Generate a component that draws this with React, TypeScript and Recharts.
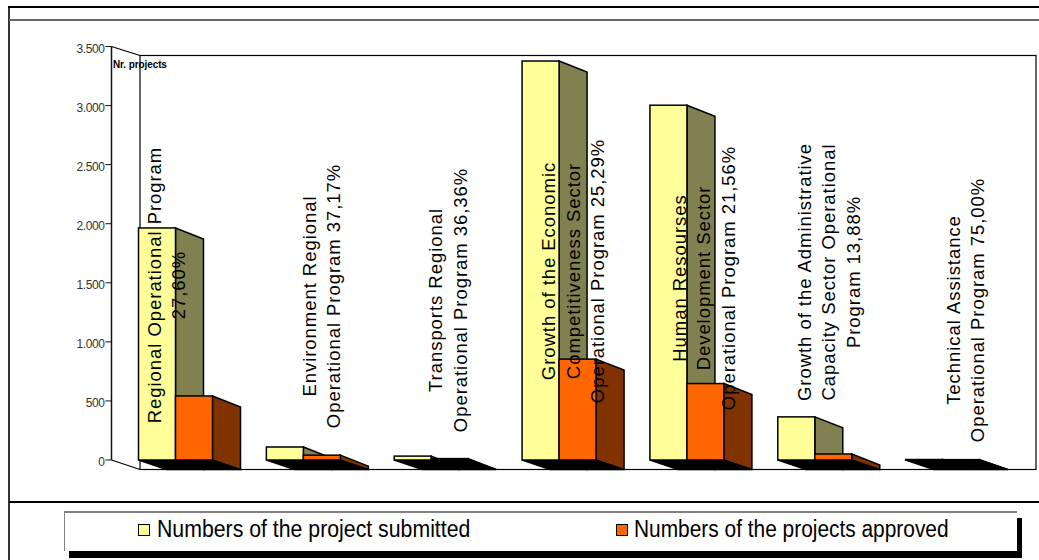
import { Bar, BarChart, LabelList, Legend, XAxis, YAxis } from "recharts";

const WIDTH = 1039;
const HEIGHT = 560;

const programLabels = [
  ["Regional Operational Program", "27,60%"],
  ["Environment Regional", "Operational Program 37,17%"],
  ["Transports Regional", "Operational Program 36,36%"],
  ["Growth of the Economic", "Competitiveness Sector", "Operational Program 25,29%"],
  ["Human Resourses", "Development Sector", "Operational Program 21,56%"],
  ["Growth of the Administrative", "Capacity Sector Operational", "Program 13,88%"],
  ["Technical Assistance", "Operational Program 75,00%"],
];
const submitted = [1964, 110, 33, 3377, 3003, 365, 4];
const approved = [542, 41, 12, 854, 647, 51, 3];
const yTicks = [0, 500, 1000, 1500, 2000, 2500, 3000, 3500];

const chartData = programLabels.map((lines, i) => ({
  program: lines.join(" "),
  submitted: submitted[i],
  approved: approved[i],
}));

// plot box and the fake 3D depth of the bars
const PLOT_LEFT = 111.5;
const PLOT_TOP = 46.5;
const PLOT_BOTTOM = 460;
const PLOT_RIGHT = 1006.5;
const DEPTH_X = 28;
const DEPTH_TOP_Y = 11;
const DEPTH_BASE_Y = 9.5;
const WALL_LEFT = 140;
const WALL_TOP = 55.5;
const WALL_BOTTOM = 469.5;
const WALL_RIGHT = 1036;
const LEGEND_HEIGHT = 40;

// where each rotated label block sits: offset from the category centre, middle of the text
const labelOffsetX = [-9, 18, 17, 14, 17, 14, 23];
const labelMiddleY = [285, 296, 300, 271, 278, 272, 310];
const LABEL_LINE_GAP = 24.6;

const sideColors: Record<string, string> = {
  "#FFFF99": "#808050",
  "#FF6600": "#803300",
};

function Bar3D(props: any) {
  const { x, y, width, height, fill } = props;
  const base = y + height;
  const right = x + width;
  const dx = DEPTH_X;
  // very short bars would otherwise get a side that pokes below the floor
  const topDy = Math.min(DEPTH_TOP_Y, DEPTH_BASE_Y + height);
  return (
    <g stroke="#000" strokeWidth={1.5} strokeLinejoin="miter">
      <polygon
        points={`${x},${base} ${right},${base} ${right + dx},${base + DEPTH_BASE_Y} ${x + dx},${base + DEPTH_BASE_Y}`}
        fill="#000"
      />
      <polygon
        points={`${right},${y} ${right + dx},${y + topDy} ${right + dx},${base + DEPTH_BASE_Y} ${right},${base}`}
        fill={sideColors[fill]}
      />
      <rect x={x} y={y} width={width} height={height} fill={fill} />
    </g>
  );
}

function ProgramLabel(props: any) {
  const { x, index } = props;
  // x is the left edge of the approved bar, the boundary of the pair
  const lines = programLabels[index];
  const cx = x + labelOffsetX[index];
  const cy = labelMiddleY[index];
  return (
    <g>
      {lines.map((line, i) => {
        const lx = cx + (i - (lines.length - 1) / 2) * LABEL_LINE_GAP;
        return (
          <text
            key={line}
            x={lx}
            y={cy}
            transform={`rotate(-90 ${lx} ${cy})`}
            textAnchor="middle"
            dominantBaseline="central"
            fontFamily="Liberation Sans"
            fontSize={18.5}
            letterSpacing={0.95}
            fill="#000"
          >
            {line}
          </text>
        );
      })}
    </g>
  );
}

function LegendBox({ payload }: any) {
  const markerLeft = [73, 551];
  const textLeft = [92, 569];
  const textScale = [0.925, 0.908];
  return (
    <div
      style={{
        position: "relative",
        width: 952,
        height: 38,
        background: "#fff",
        borderTop: "2px solid #808080",
        borderLeft: "1px solid #808080",
        boxShadow: "5px 7px 0 #000",
      }}
    >
      {(payload ?? []).map((entry: any, i: number) => (
        <div key={entry.value}>
          <span
            style={{
              position: "absolute",
              left: markerLeft[i],
              top: 11,
              width: 10,
              height: 10,
              background: entry.color,
              border: "1.5px solid #000",
            }}
          />
          <span
            style={{
              position: "absolute",
              left: textLeft[i],
              top: -1,
              fontFamily: "Liberation Sans",
              fontSize: 23,
              lineHeight: "34px",
              whiteSpace: "nowrap",
              color: "#000",
              transform: `scaleX(${textScale[i]})`,
              transformOrigin: "left center",
            }}
          >
            {entry.value}
          </span>
        </div>
      ))}
    </div>
  );
}

export default function App() {
  return (
    <div
      style={{
        position: "absolute",
        left: 0,
        top: 0,
        width: WIDTH,
        height: HEIGHT,
        background: "#fff",
        overflow: "hidden",
      }}
    >
      {/* outer page frame */}
      <div style={{ position: "absolute", left: 8, top: 6, width: 2, height: HEIGHT, background: "#333" }} />
      <div style={{ position: "absolute", left: 8, top: 6, width: WIDTH, height: 1.5, background: "#000" }} />
      <div style={{ position: "absolute", left: 9, top: 19, width: WIDTH, height: 1.5, background: "#666" }} />
      <div style={{ position: "absolute", left: 9, top: 501, width: WIDTH, height: 1.5, background: "#000" }} />
      <BarChart
        width={WIDTH}
        height={HEIGHT}
        data={chartData}
        barGap={0}
        barSize={37}
        margin={{
          top: PLOT_TOP,
          left: 0,
          right: WIDTH - PLOT_RIGHT,
          // the legend reserves its own height below the plot
          bottom: HEIGHT - PLOT_BOTTOM - LEGEND_HEIGHT,
        }}
        style={{ position: "absolute", left: 0, top: 0 }}
      >
        {/* back wall and floor */}
        <g fill="none" stroke="#000" strokeWidth={1.2}>
          <rect
            x={WALL_LEFT}
            y={WALL_TOP}
            width={WALL_RIGHT - WALL_LEFT}
            height={WALL_BOTTOM - WALL_TOP}
          />
          <line x1={PLOT_LEFT} y1={PLOT_TOP} x2={WALL_LEFT} y2={WALL_TOP} />
          <line x1={PLOT_LEFT} y1={PLOT_BOTTOM} x2={WALL_LEFT} y2={WALL_BOTTOM} />
        </g>
        <XAxis dataKey="program" hide />
        <YAxis
          width={PLOT_LEFT}
          domain={[0, 3500]}
          ticks={yTicks}
          interval={0}
          tickSize={6}
          tickMargin={1}
          tickFormatter={(v: number) => v.toLocaleString("de-DE")}
          tick={{ fontFamily: "Liberation Sans", fontSize: 12, letterSpacing: -0.4, fill: "#333", dy: 2 }}
          axisLine={{ stroke: "#111", strokeWidth: 1.5 }}
          tickLine={{ stroke: "#111" }}
        />
        <Legend
          content={<LegendBox />}
          wrapperStyle={{ position: "absolute", left: 64, top: 511, width: 953, height: LEGEND_HEIGHT }}
        />
        <Bar
          dataKey="submitted"
          name="Numbers of the project submitted"
          fill="#FFFF99"
          isAnimationActive={false}
          shape={<Bar3D />}
        />
        <Bar
          dataKey="approved"
          name="Numbers of the projects approved"
          fill="#FF6600"
          isAnimationActive={false}
          shape={<Bar3D />}
        >
          <LabelList dataKey="approved" content={<ProgramLabel />} />
        </Bar>
        <text
          x={113}
          y={67.5}
          fontFamily="Liberation Sans"
          fontWeight="bold"
          fontSize={10}
          letterSpacing={-0.1}
          fill="#000"
        >
          Nr. projects
        </text>
      </BarChart>
    </div>
  );
}
